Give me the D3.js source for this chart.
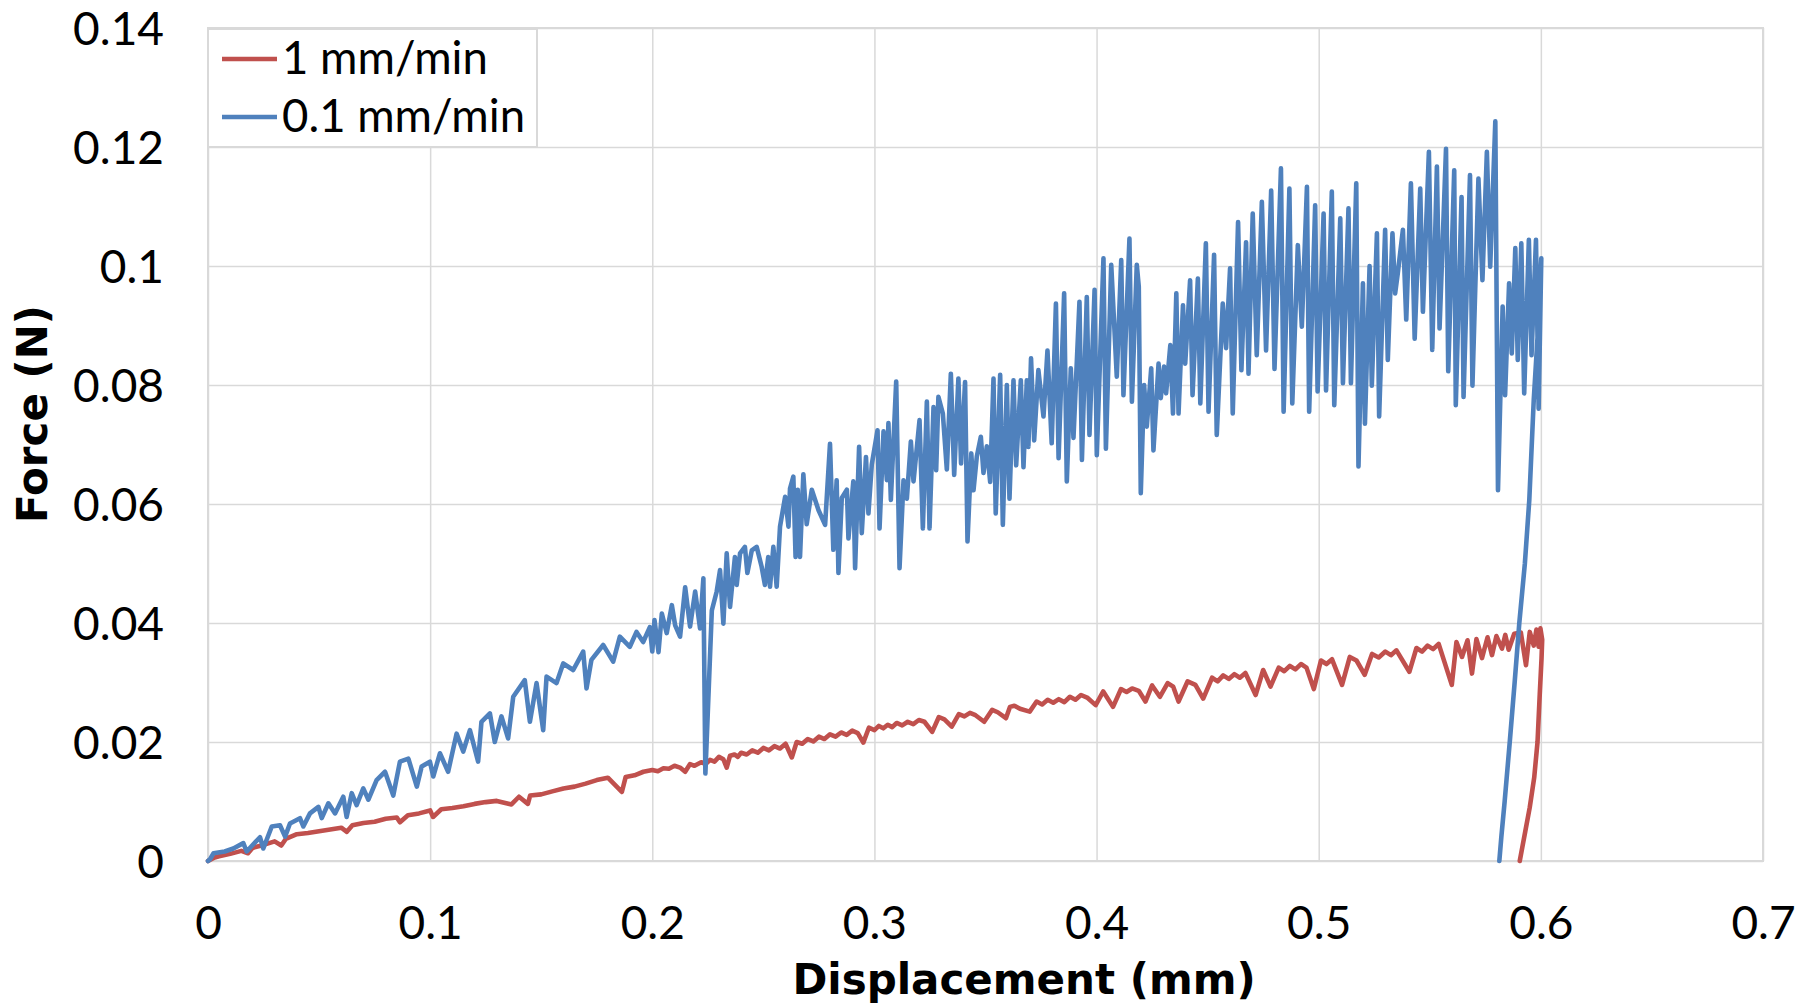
<!DOCTYPE html>
<html>
<head>
<meta charset="utf-8">
<script src="https://cdn.jsdelivr.net/npm/d3@7"></script>
<style>
  html, body { margin: 0; padding: 0; background: #fff; }
  svg { display: block; }
</style>
</head>
<body>
<svg id="chart" width="1816" height="1007"></svg>
<script>
// ---------------- DATA ----------------
const xTicks = [0, 0.1, 0.2, 0.3, 0.4, 0.5, 0.6, 0.7];
const xTickLabels = ["0", "0.1", "0.2", "0.3", "0.4", "0.5", "0.6", "0.7"];
const yTicks = [0, 0.02, 0.04, 0.06, 0.08, 0.1, 0.12, 0.14];
const yTickLabels = ["0", "0.02", "0.04", "0.06", "0.08", "0.1", "0.12", "0.14"];
const seriesNames = ["1 mm/min", "0.1 mm/min"];
const xTitle = "Displacement (mm)";
const yTitle = "Force (N)";

// 1 mm/min  [displacement (mm), force (N)]
const redPoints = [
  [0.000,0.0000],[0.003,0.0006],[0.005,0.0008],[0.010,0.0012],[0.015,0.0017],[0.018,0.0013],[0.020,0.0022],
  [0.025,0.0027],[0.030,0.0033],[0.033,0.0026],[0.035,0.0037],[0.040,0.0045],[0.045,0.0047],[0.050,0.0050],
  [0.055,0.0053],[0.060,0.0056],[0.0625,0.0049],[0.065,0.0060],[0.070,0.0064],[0.075,0.0066],[0.080,0.0071],
  [0.085,0.0073],[0.0864,0.0065],[0.090,0.0077],[0.095,0.0080],[0.100,0.0085],[0.1013,0.0074],[0.105,0.0087],
  [0.110,0.0089],[0.115,0.0092],[0.120,0.0096],[0.125,0.0099],[0.130,0.0101],[0.1366,0.0095],[0.140,0.0108],
  [0.144,0.0096],[0.145,0.0110],[0.150,0.0112],[0.155,0.0117],[0.160,0.0122],[0.165,0.0125],[0.170,0.0130],
  [0.175,0.0136],[0.180,0.0140],[0.1863,0.0116],[0.188,0.0141],[0.192,0.0144],[0.196,0.0150],
  [0.200,0.0153],[0.2025,0.0151],[0.205,0.0156],[0.2075,0.0155],[0.210,0.0160],[0.2125,0.0157],[0.2148,0.0150],
  [0.217,0.0163],[0.219,0.0160],[0.222,0.0166],[0.224,0.0163],[0.226,0.0170],[0.228,0.0167],[0.230,0.0175],
  [0.232,0.0171],[0.2335,0.0157],[0.235,0.0177],[0.237,0.0179],[0.2385,0.0175],[0.240,0.0182],[0.2425,0.0179],
  [0.245,0.0186],[0.2475,0.0182],[0.250,0.0190],[0.2525,0.0186],[0.255,0.0193],[0.2575,0.0189],[0.260,0.0197],
  [0.2628,0.0174],[0.265,0.0200],[0.2675,0.0197],[0.270,0.0205],[0.2725,0.0201],[0.275,0.0209],[0.2775,0.0205],
  [0.280,0.0213],[0.2825,0.0209],[0.285,0.0216],[0.2875,0.0212],[0.290,0.0219],[0.2925,0.0215],[0.295,0.0199],
  [0.2975,0.0224],[0.300,0.0220],[0.302,0.0227],[0.304,0.0223],[0.306,0.0229],[0.308,0.0225],[0.310,0.0232],
  [0.3125,0.0228],[0.315,0.0234],[0.3175,0.0230],[0.320,0.0237],[0.3225,0.0234],[0.326,0.0217],[0.329,0.0242],
  [0.3315,0.0238],[0.3348,0.0226],[0.338,0.0247],[0.3405,0.0243],[0.343,0.0249],[0.3455,0.0245],[0.3494,0.0234],
  [0.353,0.0254],[0.3555,0.0250],[0.3592,0.0240],[0.361,0.0259],[0.363,0.0261],[0.3655,0.0256],[0.3699,0.0251],
  [0.373,0.0268],[0.3755,0.0263],[0.378,0.0271],[0.3805,0.0266],[0.383,0.0272],[0.3855,0.0267],[0.388,0.0276],
  [0.3905,0.0271],[0.393,0.0279],[0.396,0.0274],[0.3996,0.0262],[0.403,0.0285],[0.4074,0.0259],[0.411,0.0289],
  [0.4135,0.0284],[0.416,0.0290],[0.419,0.0286],[0.4220,0.0268],[0.425,0.0295],[0.4285,0.0276],[0.432,0.0299],
  [0.4345,0.0293],[0.4369,0.0268],[0.441,0.0302],[0.4445,0.0296],[0.448,0.0273],[0.452,0.0308],[0.4545,0.0302],
  [0.457,0.0312],[0.4595,0.0306],[0.462,0.0314],[0.4645,0.0308],[0.467,0.0316],[0.4716,0.0279],[0.475,0.0321],
  [0.4783,0.0293],[0.482,0.0325],[0.4845,0.0319],[0.487,0.0328],[0.4895,0.0322],[0.492,0.0331],[0.4945,0.0325],
  [0.4978,0.0289],[0.501,0.0337],[0.5035,0.0331],[0.506,0.0339],[0.5105,0.0296],[0.514,0.0343],[0.517,0.0337],
  [0.5207,0.0313],[0.524,0.0348],[0.527,0.0342],[0.530,0.0352],[0.5325,0.0346],[0.535,0.0354],[0.5408,0.0318],
  [0.544,0.0358],[0.5465,0.0352],[0.549,0.0362],[0.5515,0.0356],[0.554,0.0365],[0.5599,0.0296],[0.562,0.0368],
  [0.5645,0.0343],[0.567,0.0371],[0.5690,0.0315],[0.571,0.0373],[0.5735,0.0341],[0.576,0.0376],[0.578,0.0346],
  [0.580,0.0378],[0.5825,0.0357],[0.584,0.0380],[0.5855,0.0355],[0.588,0.0382],[0.591,0.0384],[0.5933,0.0329],
  [0.595,0.0385],[0.5968,0.0362],[0.5980,0.0389],[0.5990,0.0360],[0.5998,0.0391],[0.6006,0.0372],
  [0.6003,0.0340],[0.5995,0.0280],[0.5985,0.0200],[0.5970,0.0140],[0.5950,0.0090],[0.5930,0.0050],
  [0.5905,0.0000]
];

// 0.1 mm/min  [displacement (mm), force (N)]
const bluePoints = [
  [0,0],[0.0009,0.0003],[0.0025,0.0013],[0.0075,0.0016],[0.0114,0.0021],[0.0159,0.0030],[0.0174,0.0016],
  [0.0234,0.0040],[0.0249,0.0021],[0.0287,0.0058],[0.0324,0.0060],[0.0347,0.0041],[0.0369,0.0063],
  [0.0414,0.0072],[0.0429,0.0058],[0.0459,0.0080],[0.0497,0.0091],[0.0512,0.0072],[0.0542,0.0097],
  [0.0572,0.0080],[0.0609,0.0108],[0.0624,0.0074],[0.0647,0.0114],[0.0669,0.0094],[0.0699,0.0122],
  [0.0722,0.0103],[0.0759,0.0136],[0.0797,0.0150],[0.0834,0.0110],[0.0864,0.0167],[0.0902,0.0172],
  [0.0940,0.0125],[0.0962,0.0159],[0.0999,0.0167],[0.1014,0.0142],[0.1044,0.0181],[0.1081,0.0150],
  [0.1119,0.0214],[0.1149,0.0184],[0.1179,0.0220],[0.1216,0.0167],[0.1231,0.0234],[0.1269,0.0248],
  [0.1291,0.0200],[0.1321,0.0243],[0.1351,0.0206],[0.1374,0.0276],[0.1426,0.0304],[0.1449,0.0234],
  [0.1479,0.0299],[0.1509,0.0220],[0.1524,0.0310],[0.1569,0.0299],[0.1599,0.0332],[0.1644,0.0321],
  [0.1689,0.0352],[0.1704,0.0290],[0.1726,0.0338],[0.1779,0.0363],[0.1824,0.0335],[0.1854,0.0377],
  [0.1899,0.0360],[0.1929,0.0385],[0.1959,0.0368],[0.1989,0.0393],[0.2000,0.0352],[0.2010,0.0405],
  [0.2028,0.0351],[0.2043,0.0416],[0.2065,0.0383],[0.2088,0.0430],[0.2103,0.0396],[0.2125,0.0377],
  [0.2148,0.0460],[0.2170,0.0394],[0.2193,0.0453],[0.2215,0.0391],[0.2230,0.0475],[0.2239,0.0147],
  [0.2268,0.0421],[0.2290,0.0453],[0.2305,0.0489],[0.2320,0.0399],[0.2335,0.0517],[0.2350,0.0427],
  [0.2372,0.0511],[0.2380,0.0464],[0.2395,0.0517],[0.2417,0.0528],[0.2428,0.0484],[0.2448,0.0522],
  [0.2470,0.0528],[0.2492,0.0495],[0.2507,0.0464],[0.2522,0.0511],[0.2530,0.0461],[0.2545,0.0528],
  [0.2560,0.0461],[0.2575,0.0562],[0.2598,0.0612],[0.2613,0.0562],[0.2620,0.0626],[0.2635,0.0646],
  [0.2645,0.0511],[0.2655,0.0624],[0.2665,0.0511],[0.2680,0.0650],[0.2695,0.0566],[0.2718,0.0624],
  [0.2748,0.0590],[0.2778,0.0565],[0.2800,0.0701],[0.2815,0.0523],[0.2830,0.0640],[0.2838,0.0484],
  [0.2853,0.0610],[0.2876,0.0624],[0.2883,0.0542],[0.2905,0.0638],[0.2913,0.0492],[0.2931,0.0696],
  [0.2943,0.0551],[0.2962,0.0679],[0.2973,0.0584],[0.2988,0.0666],[0.3014,0.0724],[0.3023,0.0559],
  [0.3041,0.0722],[0.3056,0.0640],[0.3063,0.0736],[0.3074,0.0607],[0.3098,0.0806],[0.3113,0.0492],
  [0.3131,0.0640],[0.3146,0.0609],[0.3164,0.0705],[0.3176,0.0638],[0.3203,0.0741],[0.3218,0.0559],
  [0.3236,0.0772],[0.3248,0.0559],[0.3266,0.0763],[0.3278,0.0657],[0.3288,0.0780],[0.3308,0.0752],
  [0.3326,0.0658],[0.3344,0.0819],[0.3359,0.0649],[0.3378,0.0811],[0.3390,0.0668],[0.3408,0.0805],
  [0.3419,0.0537],[0.3436,0.0685],[0.3446,0.0623],[0.3461,0.0680],[0.3479,0.0713],[0.3491,0.0652],
  [0.3506,0.0697],[0.3521,0.0637],[0.3536,0.0811],[0.3546,0.0584],[0.3566,0.0817],[0.3578,0.0565],
  [0.3596,0.0800],[0.3608,0.0609],[0.3626,0.0808],[0.3638,0.0665],[0.3659,0.0808],[0.3671,0.0662],
  [0.3686,0.0808],[0.3693,0.0696],[0.3705,0.0845],[0.3719,0.0707],[0.3738,0.0825],[0.3761,0.0747],
  [0.3779,0.0858],[0.3798,0.0702],[0.3817,0.0937],[0.3829,0.0677],[0.3854,0.0954],[0.3866,0.0638],
  [0.3884,0.0828],[0.3896,0.0711],[0.3923,0.0940],[0.3934,0.0674],[0.3956,0.0948],[0.3968,0.0716],
  [0.3991,0.0960],[0.4001,0.0682],[0.4031,0.1013],[0.4042,0.0693],[0.4066,0.1002],[0.4091,0.0814],
  [0.4111,0.1010],[0.4121,0.0783],[0.4148,0.1046],[0.4159,0.0772],[0.4181,0.1002],[0.4190,0.0965],
  [0.4199,0.0618],[0.4214,0.0800],[0.4226,0.0730],[0.4246,0.0828],[0.4256,0.0690],[0.4279,0.0836],
  [0.4289,0.0778],[0.4304,0.0831],[0.4313,0.0786],[0.4332,0.0867],[0.4344,0.0752],[0.4359,0.0954],
  [0.4369,0.0752],[0.4389,0.0934],[0.4399,0.0836],[0.4421,0.0976],[0.4432,0.0783],[0.4456,0.0979],
  [0.4467,0.0769],[0.4492,0.1038],[0.4504,0.0755],[0.4529,0.1019],[0.4541,0.0716],[0.4568,0.0937],
  [0.4583,0.0862],[0.4601,0.0996],[0.4613,0.0752],[0.4637,0.1074],[0.4652,0.0825],[0.4673,0.1040],
  [0.4684,0.0819],[0.4703,0.1088],[0.4721,0.0850],[0.4744,0.1108],[0.4763,0.0858],[0.4786,0.1127],
  [0.4801,0.0827],[0.4830,0.1164],[0.4842,0.0755],[0.4868,0.1130],[0.4881,0.0769],[0.4906,0.1035],
  [0.4924,0.0898],[0.4947,0.1133],[0.4957,0.0755],[0.4984,0.1102],[0.4995,0.0789],[0.5022,0.1088],
  [0.5033,0.0791],[0.5059,0.1125],[0.5070,0.0766],[0.5097,0.1080],[0.5109,0.0803],[0.5134,0.1097],
  [0.5145,0.0803],[0.5169,0.1139],[0.5179,0.0663],[0.5199,0.0971],[0.5208,0.0735],[0.5229,0.1000],
  [0.5239,0.0799],[0.5262,0.1055],[0.5272,0.0747],[0.5299,0.1061],[0.5311,0.0842],[0.5332,0.1055],
  [0.5344,0.0954],[0.5356,0.0988],[0.5379,0.1061],[0.5394,0.0910],[0.5415,0.1139],[0.5432,0.0878],
  [0.5457,0.1130],[0.5469,0.0923],[0.5496,0.1192],[0.5511,0.0859],[0.5532,0.1167],[0.5544,0.0895],
  [0.5573,0.1197],[0.5583,0.0823],[0.5610,0.1161],[0.5617,0.0766],[0.5643,0.1116],[0.5652,0.0780],
  [0.5681,0.1153],[0.5692,0.0799],[0.5719,0.1147],[0.5737,0.0976],[0.5757,0.1192],[0.5772,0.0999],
  [0.5795,0.1243],[0.5807,0.0623],[0.5828,0.0932],[0.5839,0.0783],[0.5857,0.0971],[0.5869,0.0853],
  [0.5885,0.1030],[0.5896,0.0842],[0.5912,0.1038],[0.5925,0.0786],[0.5946,0.1044],[0.5958,0.0850],
  [0.5978,0.1044],[0.5990,0.0760],[0.6002,0.1013],[0.5985,0.0880],[0.5968,0.0775],[0.5948,0.0607],
  [0.5928,0.0500],[0.5903,0.0400],[0.5882,0.0300],[0.5860,0.0200],[0.5837,0.0100],[0.5822,0.0040],
  [0.5813,0.0000]
];

const seriesData = [redPoints, bluePoints];
const seriesColors = ["#C0504D", "#4F81BD"];

// ---------------- CHART ----------------
const svg = d3.select("#chart");
const plot = { left: 208, right: 1763, top: 28, bottom: 861 };

const x = d3.scaleLinear().domain([0, 0.7]).range([plot.left, plot.right]);
const y = d3.scaleLinear().domain([0, 0.14]).range([plot.bottom, plot.top]);

const gridColor = "#d9d9d9";
const tickFont = "Lato, 'Open Sans', sans-serif";

// gridlines via axes
svg.append("g")
  .attr("transform", `translate(0,${plot.bottom})`)
  .call(d3.axisBottom(x).tickValues(xTicks).tickSize(-(plot.bottom - plot.top)).tickFormat(""))
  .call(g => g.select(".domain").remove())
  .call(g => g.selectAll("line").attr("stroke", gridColor).attr("stroke-width", 1.5));

svg.append("g")
  .attr("transform", `translate(${plot.left},0)`)
  .call(d3.axisLeft(y).tickValues(yTicks).tickSize(-(plot.right - plot.left)).tickFormat(""))
  .call(g => g.select(".domain").remove())
  .call(g => g.selectAll("line").attr("stroke", gridColor).attr("stroke-width", 1.5));

// plot border
svg.append("rect")
  .attr("x", plot.left).attr("y", plot.top)
  .attr("width", plot.right - plot.left).attr("height", plot.bottom - plot.top)
  .attr("fill", "none").attr("stroke", gridColor).attr("stroke-width", 2);

// tick labels via axes
svg.append("g")
  .attr("transform", `translate(0,${plot.bottom})`)
  .call(d3.axisBottom(x).tickValues(xTicks).tickSize(0).tickPadding(0)
        .tickFormat((d, i) => xTickLabels[i]))
  .call(g => g.select(".domain").remove())
  .call(g => g.selectAll("text")
    .attr("y", 78).attr("dy", null)
    .attr("font-family", tickFont).attr("font-size", 46).attr("fill", "#000"));

svg.append("g")
  .attr("transform", `translate(164,0)`)
  .call(d3.axisLeft(y).tickValues(yTicks).tickSize(0).tickPadding(0)
        .tickFormat((d, i) => yTickLabels[i]))
  .call(g => g.select(".domain").remove())
  .call(g => g.selectAll("text")
    .attr("x", 0).attr("dy", "0.36em")
    .attr("font-family", tickFont).attr("font-size", 46).attr("fill", "#000"));

// series lines
const line = d3.line().x(d => x(d[0])).y(d => y(d[1]));
seriesData.forEach((pts, i) => {
  svg.append("path")
    .datum(pts)
    .attr("d", line)
    .attr("fill", "none")
    .attr("stroke", seriesColors[i])
    .attr("stroke-width", 4.6)
    .attr("stroke-linejoin", "round")
    .attr("stroke-linecap", "round");
});

// legend
const legend = svg.append("g");
legend.append("rect")
  .attr("x", 208).attr("y", 29).attr("width", 329).attr("height", 118)
  .attr("fill", "#fff").attr("stroke", gridColor).attr("stroke-width", 2);
seriesNames.forEach((name, i) => {
  const cy = 59 + i * 58;
  legend.append("line")
    .attr("x1", 222).attr("x2", 277).attr("y1", cy).attr("y2", cy)
    .attr("stroke", seriesColors[i]).attr("stroke-width", 4.6);
  legend.append("text")
    .attr("x", 282).attr("y", cy + 15)
    .attr("font-family", tickFont).attr("font-size", 45.5).attr("fill", "#000")
    .text(name);
});

// axis titles
svg.append("text")
  .attr("x", 1024).attr("y", 994)
  .attr("text-anchor", "middle")
  .attr("font-family", "'DejaVu Sans', sans-serif").attr("font-weight", "bold")
  .attr("font-size", 42).attr("fill", "#000")
  .text(xTitle);

svg.append("text")
  .attr("transform", "translate(47,414) rotate(-90)")
  .attr("text-anchor", "middle")
  .attr("font-family", "'DejaVu Sans', sans-serif").attr("font-weight", "bold")
  .attr("font-size", 42).attr("fill", "#000")
  .text(yTitle);
</script>
</body>
</html>
